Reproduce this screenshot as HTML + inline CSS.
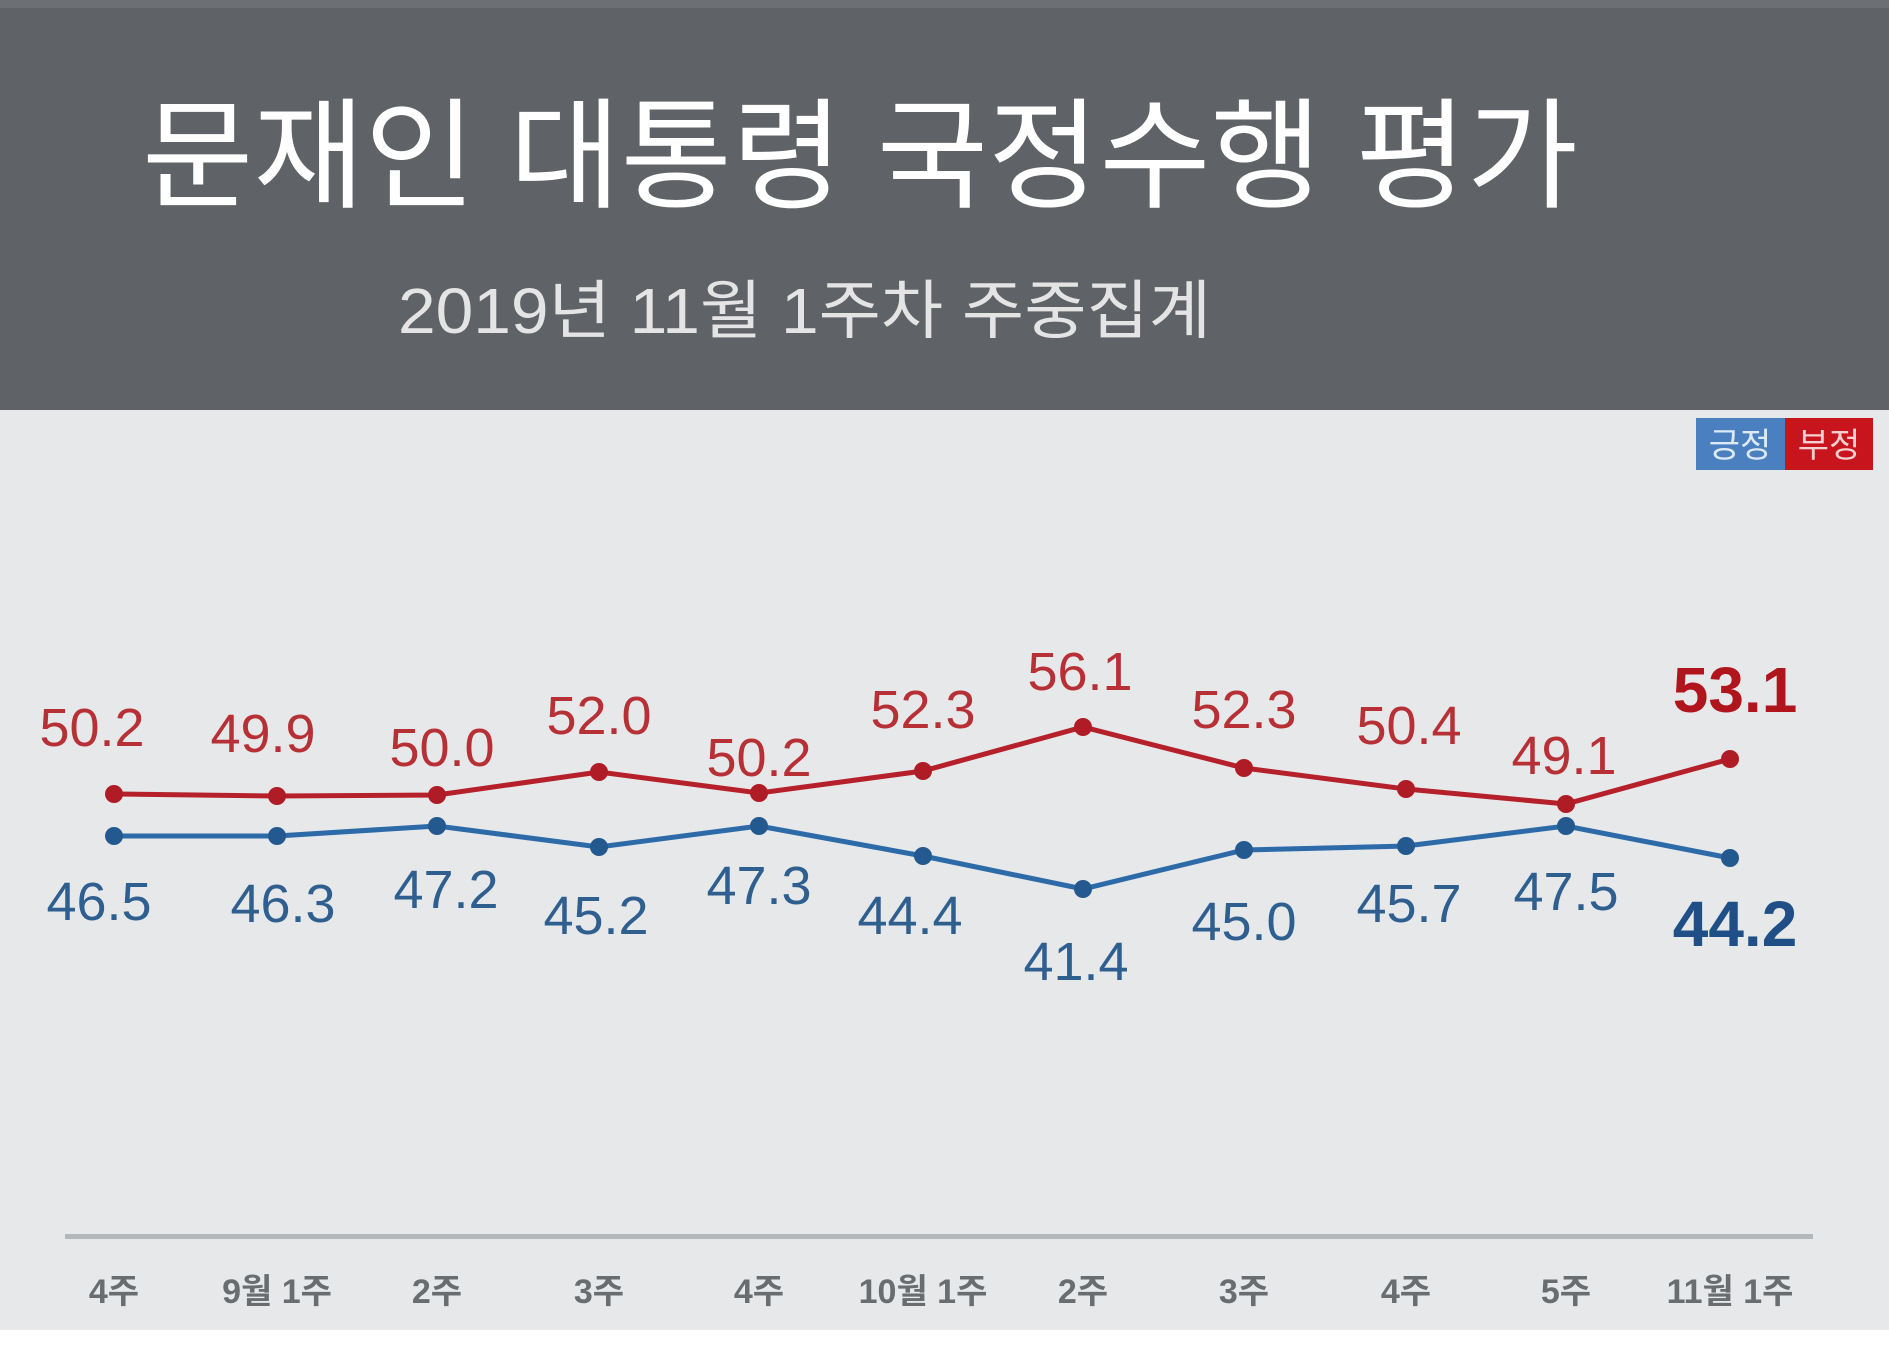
<!DOCTYPE html>
<html><head><meta charset="utf-8"><style>
body{margin:0;width:1889px;height:1353px;overflow:hidden;background:#fff;font-family:"Liberation Sans","Noto Sans CJK KR",sans-serif}
</style></head><body>
<svg width="1889" height="1353" xmlns="http://www.w3.org/2000/svg" style="position:absolute;left:0;top:0;font-family:'Liberation Sans','Noto Sans CJK KR',sans-serif">
<rect x="0" y="0" width="1889" height="1330" fill="#e6e8ea"/>
<rect x="0" y="0" width="1889" height="410" fill="#5f6266"/>
<rect x="0" y="0" width="1889" height="8" fill="#6c7075"/>
<text x="142" y="198" font-size="120" fill="#fff" textLength="1436" lengthAdjust="spacingAndGlyphs">문재인 대통령 국정수행 평가</text>
<text x="398" y="333" font-size="64" fill="#e4e4e4" textLength="813" lengthAdjust="spacingAndGlyphs">2019년 11월 1주차 주중집계</text>
<rect x="1696" y="418" width="89" height="52" fill="#4a7fc0"/>
<rect x="1785" y="418" width="88" height="52" fill="#c8141c"/>
<text x="1740" y="457" font-size="34" fill="#dfe9f5" text-anchor="middle">긍정</text>
<text x="1829" y="457" font-size="34" fill="#f5d0d0" text-anchor="middle">부정</text>
<rect x="65" y="1234" width="1748" height="5" fill="#b4b8bb"/>
<g font-size="34" fill="#6a6d70" text-anchor="middle" font-weight="bold">
<text x="114" y="1303">4주</text><text x="277" y="1303">9월 1주</text><text x="437" y="1303">2주</text><text x="599" y="1303">3주</text><text x="759" y="1303">4주</text><text x="923" y="1303">10월 1주</text><text x="1083" y="1303">2주</text><text x="1244" y="1303">3주</text><text x="1406" y="1303">4주</text><text x="1566" y="1303">5주</text><text x="1730" y="1303">11월 1주</text>
</g>
<polyline fill="none" stroke="#b5202a" stroke-width="5" points="114,794 277,796 437,795 599,772 759,793 923,771 1083,727 1244,768 1406,789 1566,804 1730,759"/>
<polyline fill="none" stroke="#2d6aa8" stroke-width="5" points="114,836 277,836 437,826 599,847 759,826 923,856 1083,889 1244,850 1406,846 1566,826 1730,858"/>
<g fill="#b01c26">
<circle cx="114" cy="794" r="9"/><circle cx="277" cy="796" r="9"/><circle cx="437" cy="795" r="9"/><circle cx="599" cy="772" r="9"/><circle cx="759" cy="793" r="9"/><circle cx="923" cy="771" r="9"/><circle cx="1083" cy="727" r="9"/><circle cx="1244" cy="768" r="9"/><circle cx="1406" cy="789" r="9"/><circle cx="1566" cy="804" r="9"/><circle cx="1730" cy="759" r="9"/>
</g>
<g fill="#24598f">
<circle cx="114" cy="836" r="9"/><circle cx="277" cy="836" r="9"/><circle cx="437" cy="826" r="9"/><circle cx="599" cy="847" r="9"/><circle cx="759" cy="826" r="9"/><circle cx="923" cy="856" r="9"/><circle cx="1083" cy="889" r="9"/><circle cx="1244" cy="850" r="9"/><circle cx="1406" cy="846" r="9"/><circle cx="1566" cy="826" r="9"/><circle cx="1730" cy="858" r="9"/>
</g>
<g font-size="54" fill="#b73036" text-anchor="middle">
<text x="92" y="746">50.2</text><text x="263" y="752">49.9</text><text x="442" y="766">50.0</text><text x="599" y="734">52.0</text><text x="759" y="776">50.2</text><text x="923" y="728">52.3</text><text x="1080" y="690">56.1</text><text x="1244" y="728">52.3</text><text x="1409" y="744">50.4</text><text x="1564" y="774">49.1</text>
</g>
<text x="1735" y="712" font-size="64" font-weight="bold" fill="#b0141c" text-anchor="middle">53.1</text>
<g font-size="54" fill="#2f5f8f" text-anchor="middle">
<text x="99" y="920">46.5</text><text x="283" y="922">46.3</text><text x="446" y="908">47.2</text><text x="596" y="934">45.2</text><text x="759" y="904">47.3</text><text x="910" y="934">44.4</text><text x="1076" y="980">41.4</text><text x="1244" y="940">45.0</text><text x="1409" y="922">45.7</text><text x="1566" y="910">47.5</text>
</g>
<text x="1735" y="946" font-size="64" font-weight="bold" fill="#1f4f86" text-anchor="middle">44.2</text>
</svg>
</body></html>
